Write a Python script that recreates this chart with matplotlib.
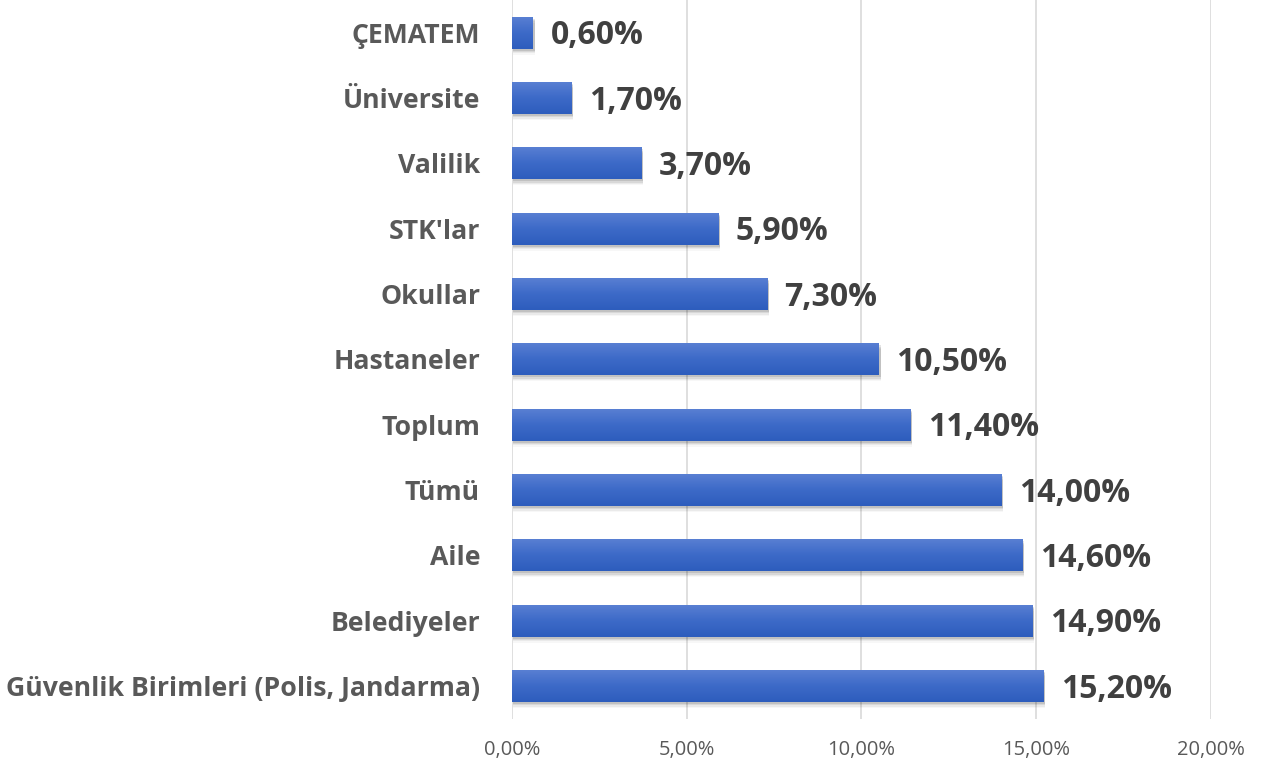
import numpy as np
import matplotlib
matplotlib.use("Agg")
import matplotlib.pyplot as plt
from matplotlib.colors import LinearSegmentedColormap
import matplotlib.patches as patches

categories = ["Güvenlik Birimleri (Polis, Jandarma)", "Belediyeler", "Aile", "Tümü",
              "Toplum", "Hastaneler", "Okullar", "STK'lar", "Valilik", "Üniversite", "ÇEMATEM"]
values = [15.2, 14.9, 14.6, 14.0, 11.4, 10.5, 7.3, 5.9, 3.7, 1.7, 0.6]
xticks = [0, 5, 10, 15, 20]

plt.rcParams['font.family'] = ['Open Sans', 'DejaVu Sans']

fig = plt.figure(figsize=(12.72, 7.69), dpi=100)
ax = fig.add_axes([0.4025, 0.0654, 0.5495, 0.9346])

bar_h = 0.49
grad = LinearSegmentedColormap.from_list("g", ["#5a80d3", "#3d6ac8", "#2d5dbd"])
gimg = np.linspace(0, 1, 64).reshape(-1, 1)

y = np.arange(len(categories))
for yi, v in zip(y, values):
    # soft shadow below the bar
    for k, a in enumerate([0.10, 0.08, 0.05, 0.03]):
        off = 0.03 + k * 0.02
        sh = patches.Rectangle((0.02, yi - bar_h / 2 - off), v + 0.03, bar_h,
                               facecolor="black", edgecolor="none", alpha=a, zorder=2)
        ax.add_patch(sh)
    rect = patches.Rectangle((0, yi - bar_h / 2), v, bar_h, facecolor="#3d6ac8",
                             edgecolor="none", zorder=3)
    ax.add_patch(rect)
    im = ax.imshow(gimg, cmap=grad, aspect="auto", origin="upper",
                   extent=(0, v, yi - bar_h / 2, yi + bar_h / 2), zorder=4)
    im.set_clip_path(rect)
    ax.text(v + 0.5, yi - 0.05, f"{v:.2f}%".replace(".", ","), va="center", ha="left",
            fontsize=23, fontweight="bold", color="#404040", zorder=5)

ax.set_xlim(0, 20)
ax.set_ylim(-0.5, len(categories) - 0.5)
ax.set_xticks(xticks)
ax.set_xticklabels([f"{t:.2f}%".replace(".", ",") for t in xticks], fontsize=14.5, color="#595959")
ax.set_yticks(y)
ax.set_yticklabels(categories, fontsize=19.2, fontweight="bold", color="#595959")
ax.tick_params(axis="both", length=0)
ax.tick_params(axis="y", pad=23)
ax.tick_params(axis="x", pad=15)
ax.grid(axis="x", color="#d9d9d9", linewidth=1.2, zorder=0)
ax.set_axisbelow(True)
for s in ax.spines.values():
    s.set_visible(False)

fig.savefig("out.png", dpi=100)
